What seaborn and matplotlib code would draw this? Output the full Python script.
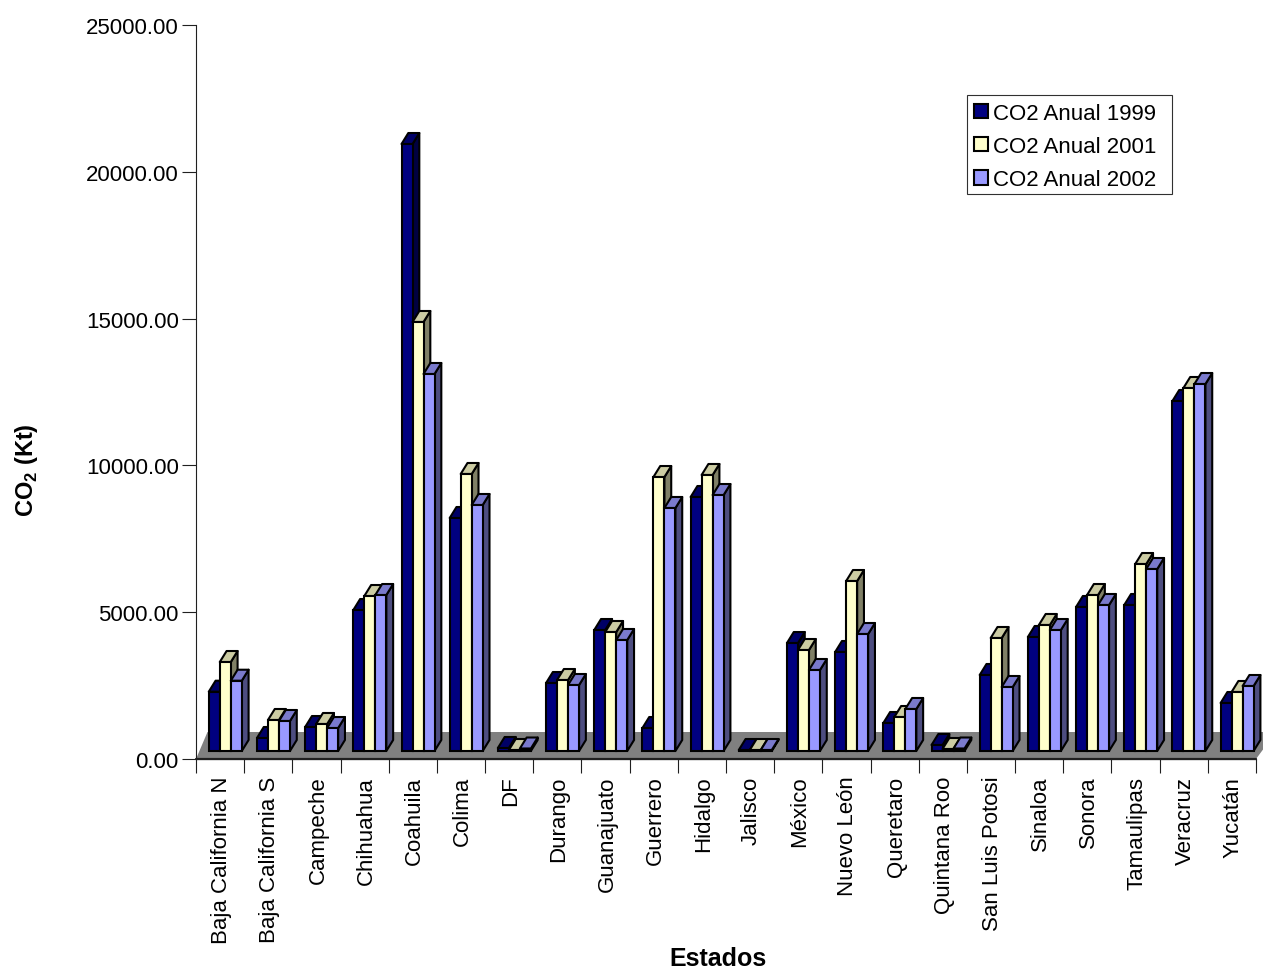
import matplotlib
matplotlib.use("Agg")
import matplotlib.pyplot as plt
from matplotlib.patches import Polygon, Rectangle
from matplotlib.transforms import Affine2D, IdentityTransform
import pandas as pd
import seaborn as sns

estados = ["Baja California N", "Baja California S", "Campeche", "Chihuahua", "Coahuila",
           "Colima", "DF", "Durango", "Guanajuato", "Guerrero", "Hidalgo", "Jalisco",
           "México", "Nuevo León", "Queretaro", "Quintana Roo", "San Luis Potosi",
           "Sinaloa", "Sonora", "Tamaulipas", "Veracruz", "Yucatán"]
co2_1999 = [2020, 443, 817, 4802, 20674, 7936, 102, 2316, 4121, 783, 8651, 34,
            3678, 3372, 954, 204, 2589, 3883, 4905, 4973, 11921, 1635]
co2_2001 = [3031, 1056, 920, 5279, 14612, 9435, 34, 2418, 4053, 9332, 9401, 34,
            3440, 5790, 1158, 68, 3849, 4292, 5313, 6369, 12364, 2010]
co2_2002 = [2394, 1022, 783, 5313, 12841, 8379, 85, 2248, 3781, 8277, 8719, 34,
            2759, 3985, 1431, 85, 2180, 4121, 4973, 6199, 12500, 2214]
series_names = ["CO2 Anual 1999", "CO2 Anual 2001", "CO2 Anual 2002"]
y_ticks = [0, 5000, 10000, 15000, 20000, 25000]

front_colors = ["#000080", "#FFFFCC", "#9999FF"]
top_colors = ["#000066", "#CCCCA3", "#7A7ACC"]
side_colors = ["#000040", "#808066", "#4D4D80"]

sns.set_theme(style="white")
plt.rcParams["font.family"] = ["Liberation Sans", "DejaVu Sans"]
plt.rcParams["mathtext.fontset"] = "custom"
plt.rcParams["mathtext.bf"] = "Liberation Sans:bold"
plt.rcParams["mathtext.rm"] = "Liberation Sans:bold"

W, H = 1263, 970
fig = plt.figure(figsize=(W / 100, H / 100), dpi=100, facecolor="white")
ax = fig.add_axes([196 / W, (H - 760) / H, 1060 / W, 734 / H])

df = pd.DataFrame({
    "Estado": estados * 3,
    "Serie": [s for s in series_names for _ in estados],
    "CO2": co2_1999 + co2_2001 + co2_2002,
})

EDGE = 1.5
sns.barplot(data=df, x="Estado", y="CO2", hue="Serie", order=estados,
            hue_order=series_names, palette=front_colors, saturation=1,
            width=0.685, gap=0, edgecolor="black", linewidth=EDGE, ax=ax, legend=True)

n = len(estados)
ax.set_xlim(-0.5, n - 0.5)
ax.set_ylim(0, 25000)

# Pixel offsets that give the bars and the floor their oblique depth
BAR_SHIFT = (5.2, 8.0)
BAR_DEPTH = (6.8, 11.0)
FLOOR_LEFT = (11.5, 27.0)
FLOOR_RIGHT = (20.0, 27.0)

to_px = ax.transData.transform
x0, y0 = to_px((-0.5, 0))
x1, _ = to_px((n - 0.5, 0))
ax.add_patch(Polygon([(x0, y0), (x1, y0),
                      (x1 + FLOOR_RIGHT[0], y0 + FLOOR_RIGHT[1]),
                      (x0 + FLOOR_LEFT[0], y0 + FLOOR_LEFT[1])],
                     closed=True, facecolor="#808080", edgecolor="none",
                     transform=IdentityTransform(), clip_on=False, zorder=1))
ax.plot([-0.5, n - 0.5], [0, 0], color="#202020", lw=1.6, clip_on=False, zorder=1.5)

shift = ax.transData + Affine2D().translate(*BAR_SHIFT)
dx, dy = BAR_DEPTH
for k, container in enumerate(ax.containers):
    for i, bar in enumerate(container):
        order = 3 + i * 0.01 + k * 0.001
        (bx0, by0), (bx1, by1) = shift.transform(
            [(bar.get_x(), 0), (bar.get_x() + bar.get_width(), bar.get_height())])
        top = Polygon([(bx0, by1), (bx0 + dx, by1 + dy), (bx1 + dx, by1 + dy), (bx1, by1)],
                      closed=True, facecolor=top_colors[k])
        side = Polygon([(bx1, by0), (bx1 + dx, by0 + dy), (bx1 + dx, by1 + dy), (bx1, by1)],
                       closed=True, facecolor=side_colors[k])
        for face in (side, top):
            face.set(edgecolor="black", linewidth=EDGE, transform=IdentityTransform(),
                     clip_on=False, zorder=order, joinstyle="round")
            ax.add_patch(face)
        bar.set_transform(shift)
        bar.set_clip_on(False)
        bar.set_zorder(order + 0.0005)

# Value axis
ax.set_yticks(y_ticks)
ax.set_yticklabels([f"{v:.2f}" for v in y_ticks])
ax.tick_params(axis="y", which="major", left=True, length=10, width=0.8, color="#202020",
               labelsize=16, pad=2.5, labelcolor="black")

# Category axis: labels on the groups, tick marks on the group boundaries
ax.set_xticks(range(n))
ax.set_xticklabels(estados, rotation=90, ha="center", va="top")
ax.set_xticks([i - 0.5 for i in range(n + 1)], minor=True)
ax.tick_params(axis="x", which="major", bottom=False, length=0, labelsize=16, pad=12,
               labelcolor="black")
ax.tick_params(axis="x", which="minor", bottom=True, length=10, width=0.8, color="#202020")
label_nudge = Affine2D().translate(1.5, 0)
for label in ax.get_xticklabels():
    label.set_transform(label.get_transform() + label_nudge)

for name in ("top", "right"):
    ax.spines[name].set_visible(False)
for name in ("left", "bottom"):
    ax.spines[name].set_linewidth(0.8)
    ax.spines[name].set_color("#202020")
    ax.spines[name].set_zorder(2)

ax.set_xlabel("")
ax.set_ylabel("")
fig.text(718 / W, (H - 966.5) / H, "Estados", fontsize=18, fontweight="bold", color="black",
         ha="center", va="baseline")
fig.text(26 / W, (H - 470) / H, r"CO$_{\mathbf{2}}$ (Kt)", fontsize=17, fontweight="bold",
         color="black", rotation=90, ha="center", va="center")

# Legend text and keys sit inside a separately drawn box
fig.add_artist(Rectangle((966.5 / W, (H - 195) / H), 205.5 / W, 99.5 / H,
                         transform=fig.transFigure, facecolor="white",
                         edgecolor="#303030", linewidth=0.8, zorder=9))
handles, labels = ax.get_legend_handles_labels()
legend = ax.legend(handles, labels, loc="upper left",
                   bbox_to_anchor=(967.5 / W, (H - 97) / H), bbox_transform=fig.transFigure,
                   fontsize=16, frameon=False, labelcolor="black",
                   borderaxespad=0, borderpad=0.3, labelspacing=0.55,
                   handlelength=0.64, handleheight=0.64, handletextpad=0.22)
legend.set_zorder(10)
legend.remove()
fig.add_artist(legend)

fig.savefig("out.png", dpi=100, facecolor="white")
